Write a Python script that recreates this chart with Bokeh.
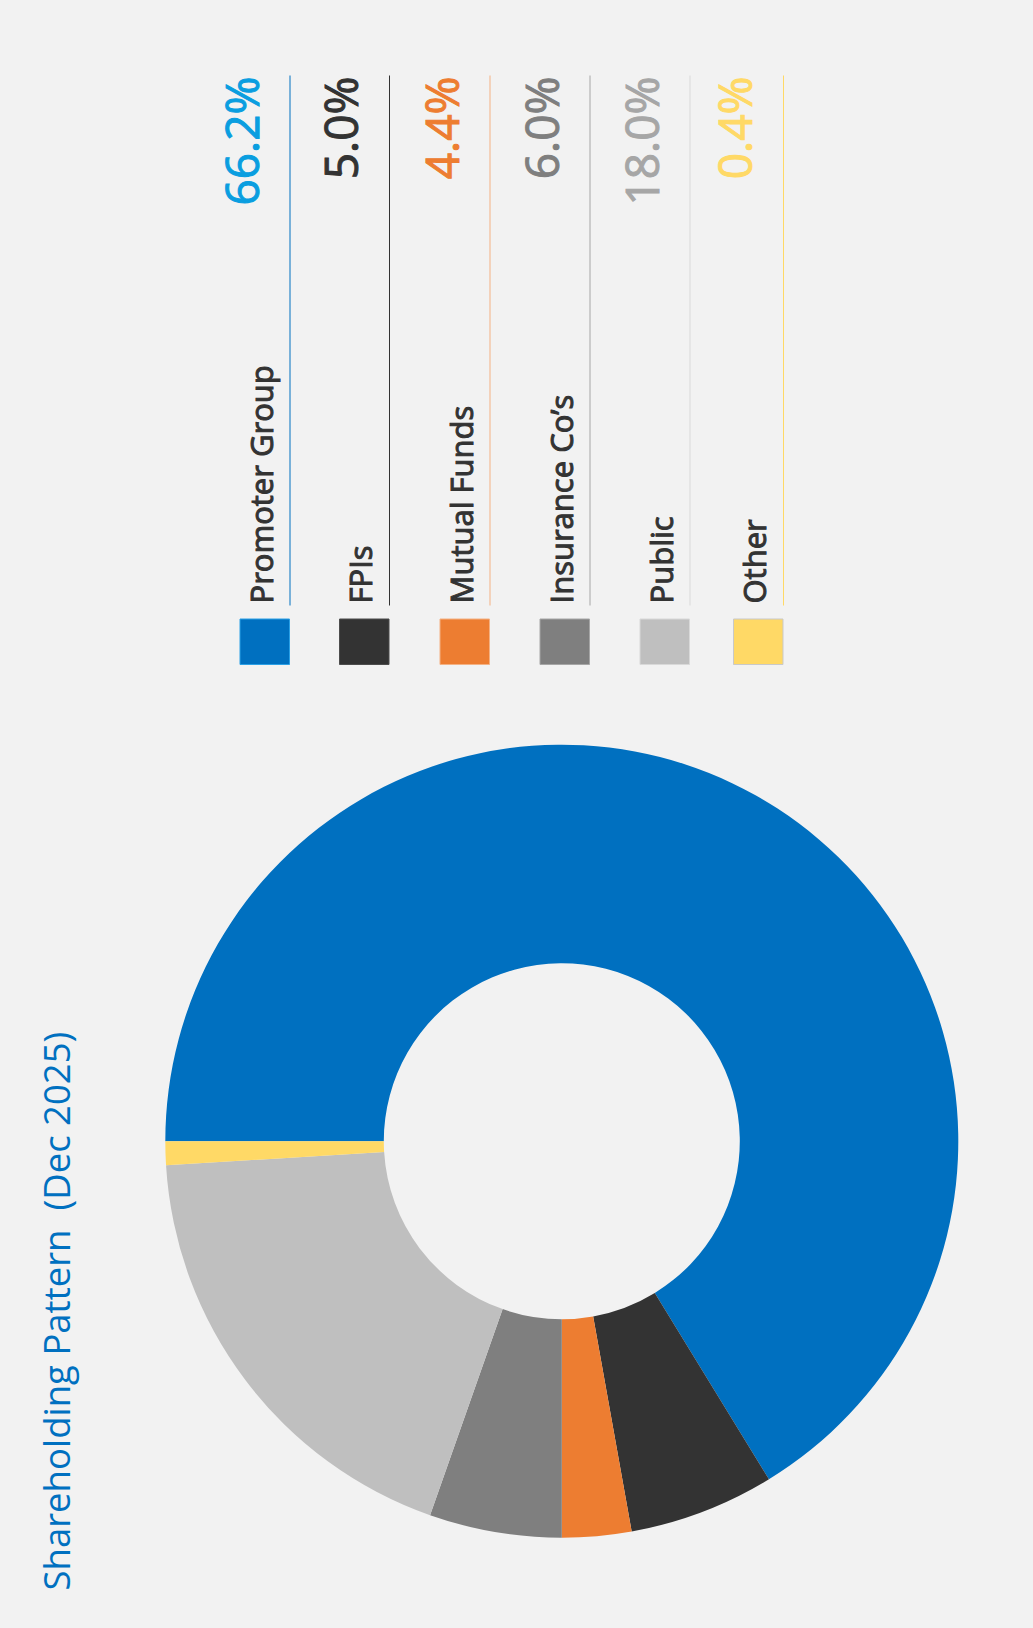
import math
from bokeh.plotting import figure
from bokeh.models import ColumnDataSource, Range1d
from bokeh.core.properties import value
from bokeh.embed import file_html
from bokeh.resources import INLINE

# ---------------- data ----------------
categories = ["Promoter Group", "FPIs", "Mutual Funds", "Insurance Co\u2019s", "Public", "Other"]
label_pct = [66.2, 5.0, 4.4, 6.0, 18.0, 0.4]            # values printed in the legend
wedge_share = [66.25, 5.93, 2.82, 5.39, 18.64, 0.97]    # slice sizes as drawn in the donut
title_text = "Shareholding Pattern\u00a0\u00a0(Dec 2025)"

# ---------------- styles ----------------
wedge_colors = ["#0070c0", "#333333", "#ed7d31", "#7f7f7f", "#bfbfbf", "#ffd966"]
pct_colors = ["#0a9ee0", "#333333", "#ed7d31", "#7f7f7f", "#a6a6a6", "#ffd966"]
rule_colors = ["#0070c0", "#333333", "#f4b183", "#a6a6a6", "#d9d9d9", "#ffd966"]
square_borders = ["#2aa0e6", "#4d4d4d", "#f4b183", "#a6a6a6", "#d9d9d9", "#c9c9c9"]
BG = "#f2f2f2"
FONT = "Open Sans"

# ---------------- layout (picture pixels, origin top-left of figure) ----------------
W, H = 1017, 1612
def px(X):
    return X
def py(Y):
    return H - Y

col_right = [289.0, 388.5, 489.0, 589.0, 689.0, 782.5]
sq_w, sq_top, sq_bot = 49.5, 618.5, 664.0
rule_top, rule_bot = 75.0, 605.0

p = figure(width=W, height=H, output_backend="svg", toolbar_location=None,
           x_range=Range1d(0, W), y_range=Range1d(0, H), min_border=0,
           background_fill_color=BG, border_fill_color=BG)
p.xaxis.visible = False
p.yaxis.visible = False
p.grid.visible = False
p.outline_line_color = None

# ---------------- donut ----------------
total = sum(wedge_share)
starts, ends = [], []
cum = 0.0
for s in wedge_share:
    starts.append(math.radians(180 - 360 * cum / total))
    cum += s
    ends.append(math.radians(180 - 360 * cum / total))

donut = ColumnDataSource(dict(start=starts, end=ends, color=wedge_colors, cat=categories))
p.annular_wedge(x=px(561.3), y=py(1140.7), inner_radius=178, outer_radius=396.5,
                start_angle="start", end_angle="end", direction="clock",
                fill_color="color", line_color=None, source=donut)

# ---------------- legend ----------------
leg = ColumnDataSource(dict(
    left=[px(c - sq_w) for c in col_right],
    right=[px(c) for c in col_right],
    top=[py(sq_top)] * 6,
    bottom=[py(sq_bot)] * 6,
    fill=wedge_colors,
    border=square_borders,
    rx=[px(c) + 0.5 for c in col_right],
    ry0=[py(rule_top)] * 6,
    ry1=[py(rule_bot)] * 6,
    rule=rule_colors,
    cx=[px(c - 29) for c in col_right],
    cy=[py(603)] * 6,
    cat=categories,
    vx=[px(c - 49) for c in col_right],
    vy=[py(76)] * 6,
    vtxt=[f"{v:.1f}%" for v in label_pct],
    vcol=pct_colors,
))
p.quad(left="left", right="right", top="top", bottom="bottom", fill_color="fill",
       line_color="border", line_width=1, source=leg)
p.segment(x0="rx", y0="ry0", x1="rx", y1="ry1", line_color="rule", line_width=1, source=leg)
p.text(x="cx", y="cy", text="cat", angle=math.pi / 2, text_align="left",
       text_baseline="alphabetic", text_font=value(FONT), text_font_size=value("31px"),
       text_color="#333333", text_outline_color="#333333", source=leg)
p.text(x="vx", y="vy", text="vtxt", angle=math.pi / 2, text_align="right",
       text_baseline="alphabetic", text_font=value(FONT), text_font_size=value("46px"),
       text_color="vcol", text_outline_color="vcol", source=leg)

# ---------------- title ----------------
p.text(x=[px(55)], y=[py(1590)], text=[title_text], angle=math.pi / 2, text_align="left",
       text_baseline="alphabetic", text_font=value(FONT), text_font_size=value("36.5px"),
       text_color="#0070c0")

html = file_html(p, INLINE)
html = html.replace("</head>", "<style>html,body{background-color:#f2f2f2;}</style></head>", 1)
open("out.html", "w").write(html)
